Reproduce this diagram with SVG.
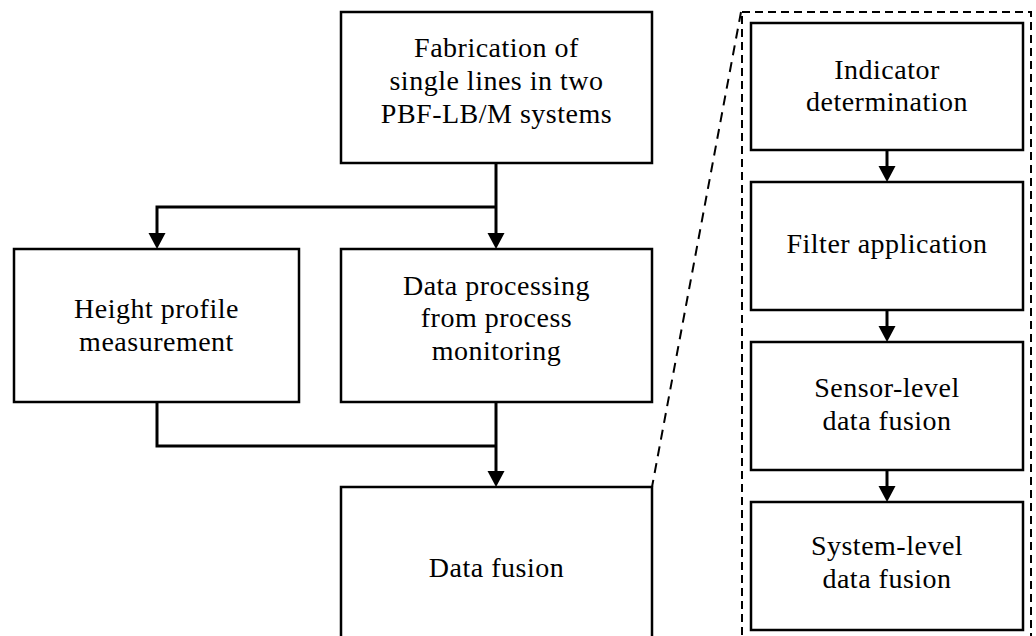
<svg xmlns="http://www.w3.org/2000/svg" width="1036" height="636" viewBox="0 0 1036 636">
  <style>
    .box { fill: #ffffff; stroke: #000000; stroke-width: 2.5; }
    .lbl { font-family: "Liberation Serif", "Times New Roman", serif; font-size: 28px; letter-spacing: 0.5px; fill: #000000; text-anchor: middle; }
    .wire { fill: none; stroke: #000000; stroke-width: 3; stroke-linejoin: miter; }
    .dash { fill: none; stroke: #000000; stroke-width: 2; stroke-dasharray: 8 5; }
    .slant { fill: none; stroke: #000000; stroke-width: 2; stroke-dasharray: 10 7; }
  </style>
  <defs>
    <marker id="arrow" markerUnits="userSpaceOnUse" markerWidth="18" markerHeight="18" refX="5" refY="8.5" orient="auto">
      <path d="M0,0 L16,8.5 L0,17 Z" fill="#000000"/>
    </marker>
  </defs>

  <rect width="1036" height="636" fill="#ffffff"/>

  <!-- zoom frame around the data fusion detail -->
  <g id="detail-frame">
    <rect class="dash" x="742" y="12" width="289" height="640"/>
    <line class="slant" x1="741" y1="12" x2="652" y2="487"/>
  </g>

  <!-- connectors -->
  <g id="connectors">
    <path class="wire" d="M496,163 L496,238" marker-end="url(#arrow)"/>
    <path class="wire" d="M496,207 L157,207 L157,238" marker-end="url(#arrow)"/>
    <path class="wire" d="M157,402 L157,446 L496,446"/>
    <path class="wire" d="M496,402 L496,476" marker-end="url(#arrow)"/>
    <path class="wire" d="M887,150 L887,171" marker-end="url(#arrow)"/>
    <path class="wire" d="M887,310 L887,331" marker-end="url(#arrow)"/>
    <path class="wire" d="M887,470 L887,491" marker-end="url(#arrow)"/>
  </g>

  <g id="fabrication">
    <rect class="box" x="341" y="12" width="311" height="151"/>
    <text class="lbl" x="496.5" y="57">Fabrication of</text>
    <text class="lbl" x="496.5" y="90">single lines in two</text>
    <text class="lbl" x="496.5" y="123">PBF-LB/M systems</text>
  </g>

  <g id="height-profile">
    <rect class="box" x="14" y="249" width="285" height="153"/>
    <text class="lbl" x="156.5" y="318">Height profile</text>
    <text class="lbl" x="156.5" y="351">measurement</text>
  </g>

  <g id="data-processing">
    <rect class="box" x="341" y="249" width="311" height="153"/>
    <text class="lbl" x="496.5" y="295">Data processing</text>
    <text class="lbl" x="496.5" y="327">from process</text>
    <text class="lbl" x="496.5" y="360">monitoring</text>
  </g>

  <g id="data-fusion">
    <rect class="box" x="341" y="487" width="311" height="170"/>
    <text class="lbl" x="496.5" y="577">Data fusion</text>
  </g>

  <g id="indicator">
    <rect class="box" x="751" y="23" width="272" height="127"/>
    <text class="lbl" x="887" y="79">Indicator</text>
    <text class="lbl" x="887" y="111">determination</text>
  </g>

  <g id="filter">
    <rect class="box" x="751" y="182" width="272" height="128"/>
    <text class="lbl" x="887" y="253">Filter application</text>
  </g>

  <g id="sensor-fusion">
    <rect class="box" x="751" y="342" width="272" height="128"/>
    <text class="lbl" x="887" y="397">Sensor-level</text>
    <text class="lbl" x="887" y="430">data fusion</text>
  </g>

  <g id="system-fusion">
    <rect class="box" x="751" y="502" width="272" height="128"/>
    <text class="lbl" x="887" y="555">System-level</text>
    <text class="lbl" x="887" y="588">data fusion</text>
  </g>
</svg>
